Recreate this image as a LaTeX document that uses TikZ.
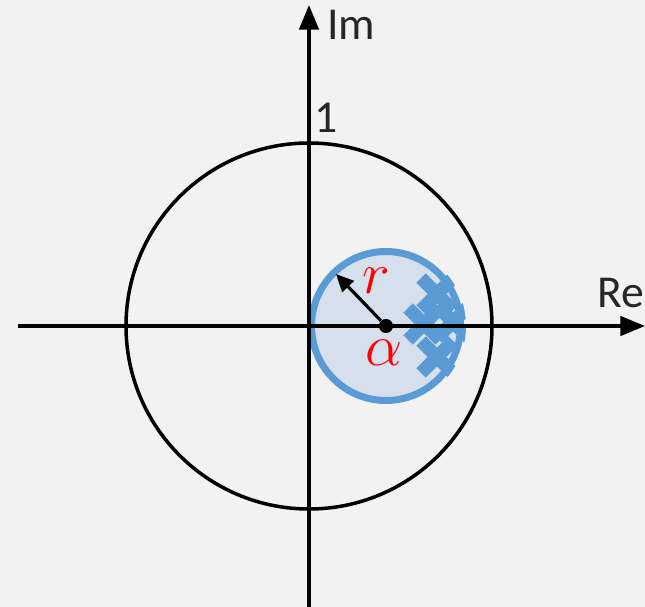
\documentclass[tikz,border=0pt]{standalone}
\usepackage{fontspec}
\setmainfont{Carlito}
\usetikzlibrary{arrows.meta}
\definecolor{bg}{RGB}{242,242,242}
\definecolor{eblue}{RGB}{91,155,213}
\definecolor{efill}{RGB}{214,224,236}
\definecolor{txt}{RGB}{38,38,38}
\begin{document}
\begin{tikzpicture}[x=0.02cm,y=-0.02cm,
  axis/.style={line width=2pt,-{Triangle[length=14pt,width=11pt]}},
  lbl/.style={font=\fontsize{26}{30}\selectfont,text=txt,inner sep=0pt},
  mlbl/.style={font=\fontsize{24}{28}\selectfont,text=red,inner sep=0pt,scale=1.35},
  xmark/.style={line width=7.5pt,eblue}]
\fill[bg] (0,0) rectangle (645,607);
\useasboundingbox (0,0) rectangle (645,607);
\coordinate (o) at (309,326);
\coordinate (a) at (386,326);
\node[draw,circle,line width=2pt,minimum size=366*0.02cm,inner sep=0pt] (unit) at (o) {};
\node[draw=eblue,fill=efill,circle,line width=4pt,minimum size=156*0.02cm-4pt,inner sep=0pt] (disk) at (a) {};
\begin{scope}
\clip (a) circle (80);
\foreach \cx/\cy in {437/294, 424/324, 453/322, 437/357} {
  \draw[xmark] (\cx-16,\cy-16) -- (\cx+16,\cy+16);
  \draw[xmark] (\cx-16,\cy+16) -- (\cx+16,\cy-16);
}
\end{scope}
\coordinate (xl) at (18,326);
\coordinate (xr) at (645,326);
\coordinate (yb) at (309,607);
\coordinate (yt) at (309,5);
\draw[axis] (xl) -- (xr);
\draw[axis] (yb) -- (yt);
\node[circle,fill=black,inner sep=0pt,minimum size=8pt] (dot) at (a) {};
\coordinate (rt) at (336,274);
\draw[line width=1.8pt,-{Triangle[length=10pt,width=9pt]}] (dot) -- (rt);
\node[lbl,anchor=west] (im) at (327,25) {Im};
\node[lbl,anchor=east] (re) at (645,293) {Re};
\node[lbl] (one) at (326,118) {1};
\node[mlbl] (r) at (376,281) {$r$};
\node[mlbl] (al) at (384,353) {$\alpha$};
\end{tikzpicture}
\end{document}
